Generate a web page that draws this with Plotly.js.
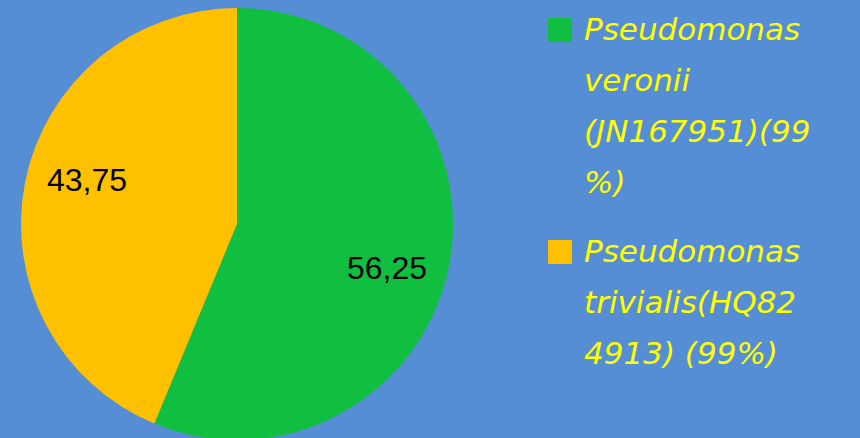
<!DOCTYPE html>
<html>
<head>
<meta charset="utf-8">
<script src="https://cdn.plot.ly/plotly-3.0.1.min.js"></script>
<style>
html,body{margin:0;padding:0;background:#558ED5;overflow:hidden;width:860px;height:438px;}
#chart{width:860px;height:448px;}
</style>
</head>
<body>
<div id="chart"></div>
<script>
// Data
const labels = ['Pseudomonas veronii (JN167951)(99%)', 'Pseudomonas trivialis(HQ824913) (99%)'];
const legendLines = [
  ['Pseudomonas', 'veronii', '(JN167951)(99', '%)'],
  ['Pseudomonas', 'trivialis(HQ82', '4913) (99%)']
];
const values = [56.25, 43.75];
const colors = ['#10BF40', '#FFC000'];

const W = 860, H = 448, MT = 8, MB = 8;
const PH = H - MT - MB;
const px2x = px => px / W;
const py2y = py => 1 - (py - MT) / PH;

// pie geometry (layout)
const CX = 237, CY = 224, R = 216;

const trace = {
  type: 'pie',
  labels: labels,
  values: values,
  sort: false,
  direction: 'clockwise',
  rotation: 0,
  marker: {colors: colors, line: {width: 0}},
  textinfo: 'none',
  hoverinfo: 'label+value',
  showlegend: false,
  domain: {x: [(CX - R) / W, (CX + R) / W], y: [0, 1]}
};

const annotations = [];

// data labels placed at the middle angle of each slice (derived from values)
const total = values.reduce((a, b) => a + b, 0);
let cum = 0;
values.forEach((v, i) => {
  const midDeg = (cum + v / 2) / total * 360 + 5;
  cum += v;
  const a = midDeg * Math.PI / 180;
  const r = R * 0.725;
  const px = CX + r * Math.sin(a);
  const py = CY - r * Math.cos(a);
  annotations.push({
    xref: 'paper', yref: 'paper', x: px2x(px), y: py2y(py),
    xanchor: 'center', yanchor: 'middle', showarrow: false,
    text: String(v).replace('.', ','),
    font: {family: 'Liberation Sans, Arial, sans-serif', size: 32, color: '#000000'}
  });
});

// legend
const legendFont = {family: '"Comic Sans MS", "DejaVu Sans", sans-serif', size: 31, color: '#FFFF00', style: 'italic'};
const itemTop = [18, 240];
const firstBaseline = [40, 262];
const lineStep = 51;
legendLines.forEach((lines, i) => {
  annotations.push({
    xref: 'paper', yref: 'paper', x: px2x(548), y: py2y(itemTop[i]),
    xanchor: 'left', yanchor: 'top', text: ' ', showarrow: false,
    width: 24, height: 24, bgcolor: colors[i], borderpad: 0, borderwidth: 0
  });
  lines.forEach((t, j) => {
    annotations.push({
      xref: 'paper', yref: 'paper', x: px2x(582), y: py2y(firstBaseline[i] + j * lineStep - 11),
      xanchor: 'left', yanchor: 'middle', text: t, showarrow: false,
      font: legendFont, align: 'left'
    });
  });
});

const layout = {
  width: W, height: H,
  margin: {l: 0, r: 0, t: MT, b: MB, pad: 0},
  paper_bgcolor: '#558ED5',
  plot_bgcolor: '#558ED5',
  separators: ',.',
  showlegend: false,
  annotations: annotations
};

Plotly.newPlot('chart', [trace], layout, {displayModeBar: false, staticPlot: true});
</script>
</body>
</html>
